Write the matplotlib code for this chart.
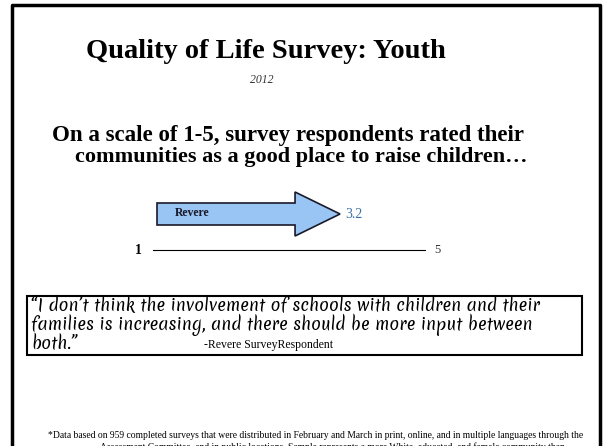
import matplotlib.pyplot as plt
from matplotlib.patches import Polygon, Rectangle

# data
place = 'Revere'
score = 3.2
scale_min, scale_max = 1, 5
title = 'Quality of Life Survey: Youth'
year = '2012'
question = ['On a scale of 1-5, survey respondents rated their',
            'communities as a good place to raise children…']
quote = ['\u201cI don\u2019t think the involvement of schools with children and their',
         'families is increasing, and there should be more input between',
         'both.\u201d']
source = '-Revere SurveyRespondent'
footnote = ['*Data based on 959 completed surveys that were distributed in February and March in print, online, and in multiple languages through the',
            'Assessment Committee, and in public locations. Sample represents a more White, educated, and female community than']

fig = plt.figure(figsize=(6.03, 4.46), dpi=100)
ax = fig.add_axes([0, 0, 1, 1])
ax.set_xlim(0, 603)
ax.set_ylim(446, 0)
ax.axis('off')

serif = 'Liberation Serif'
script = ['Merienda', 'DejaVu Serif']

# slide border (no bottom edge, slide is cut off)
ax.plot([12, 12, 599.5, 599.5], [446, 5, 5, 446], color='black', lw=2.5)

ax.text(266, 52, title, fontsize=20.5, fontweight='bold', family=serif,
        ha='center', va='center')
ax.text(262, 80, year, fontsize=8.5, style='italic', family=serif,
        ha='center', va='center', color='#333333')

ax.text(52, 135, question[0], fontsize=16.5, fontweight='bold', family=serif,
        ha='left', va='center')
ax.text(75, 157, question[1], fontsize=16, fontweight='bold', family=serif,
        ha='left', va='center')

# arrow: tip placed on a 1-5 scale
x0, px_per_pt = 157, 83.2
tip = x0 + (score - scale_min) * px_per_pt
yc = 214
head = 45
arrow = Polygon([(x0, yc - 11), (tip - head, yc - 11), (tip - head, yc - 22),
                 (tip, yc), (tip - head, yc + 22), (tip - head, yc + 11),
                 (x0, yc + 11)], closed=True, facecolor='#99c5f4',
                edgecolor='#1a1a2a', lw=1.2)
ax.add_patch(arrow)
ax.text(175, 213, place, fontsize=8.5, fontweight='bold', family=serif,
        ha='left', va='center', color='#1a1a2a')
ax.text(tip + 5, 214, f'{score}', fontsize=10, family=serif,
        ha='left', va='center', color='#3a6fa8')

# scale line
ax.plot([153, 425], [250, 250], color='black', lw=0.8)
ax.text(138, 250, str(scale_min), fontsize=10, fontweight='bold', family=serif,
        ha='center', va='center')
ax.text(437, 250, str(scale_max), fontsize=9, family=serif,
        ha='center', va='center', color='#333333')

# quote box
ax.add_patch(Rectangle((27, 296), 555, 59, fill=False, edgecolor='black', lw=1.5))
for i, line in enumerate(quote):
    ax.text(31, 306 + i * 19, line, fontsize=11.6, family=script,
            ha='left', va='center')
ax.text(204, 345, source, fontsize=8.5, family=serif, ha='left', va='center')

ax.text(48, 436, footnote[0], fontsize=6.9, family=serif, ha='left', va='center')
ax.text(100, 447, footnote[1], fontsize=6.9, family=serif, ha='left', va='center')

fig.savefig('out.png', dpi=100)
